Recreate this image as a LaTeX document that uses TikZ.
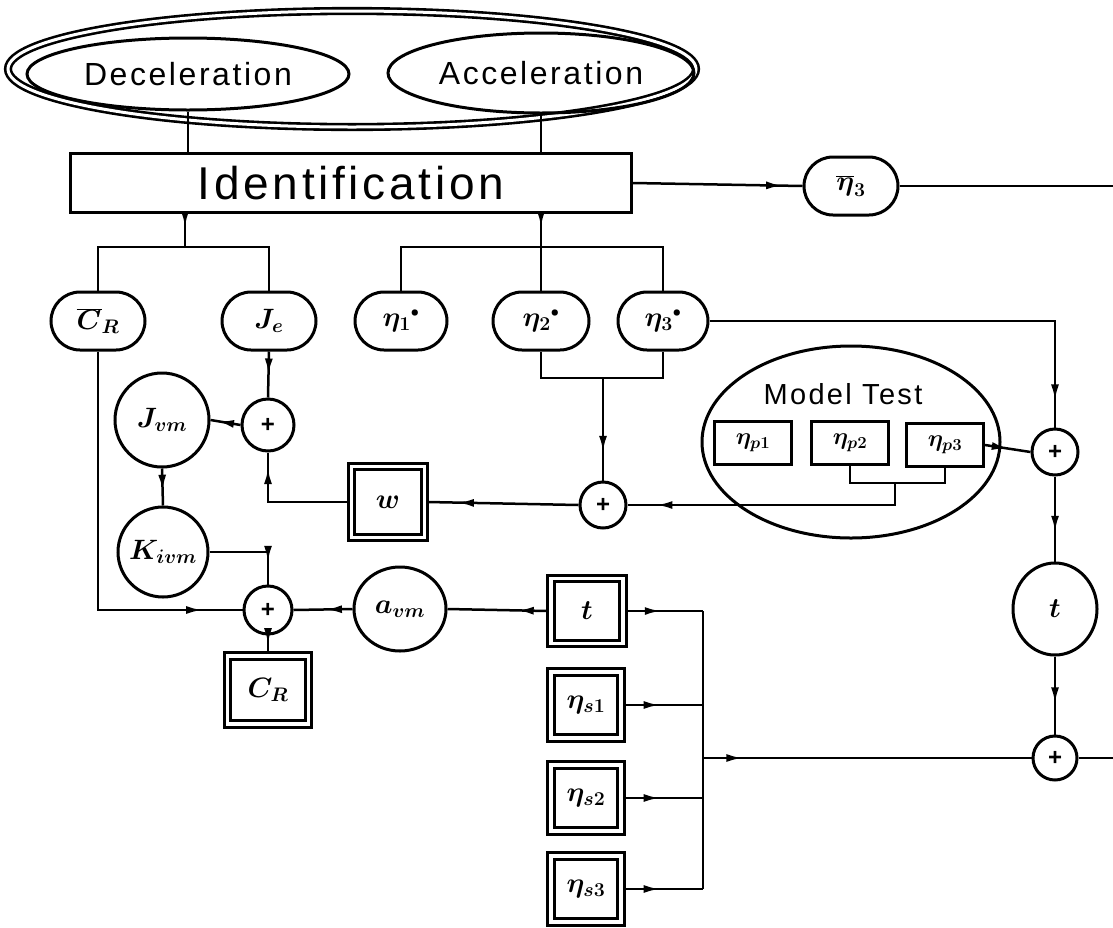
\documentclass[tikz,border=0pt]{standalone}
\usepackage{fix-cm}
\usepackage{fontspec}
\newfontfamily\plainfont[LetterSpace=8]{Liberation Sans}
\usetikzlibrary{shapes.geometric,shapes.misc,arrows.meta,decorations.markings}
\def\BusX{703}
\def\EdgeX{1113}
\def\BranchY{247}
\newcommand{\stardot}{{}^{\scriptscriptstyle\bullet}}

\begin{document}
\begin{tikzpicture}[x=1pt,y=-1pt,line width=2.5pt,
  box/.style={draw,line width=3pt,font=\fontsize{28}{32}\selectfont\boldmath},
  pill/.style={box,rounded rectangle,minimum width=98pt,minimum height=58pt,inner sep=2pt},
  dbox/.style={box,double,double distance=3.4pt,outer sep=3.2pt},
  sum/.style={box,circle,inner sep=0pt,minimum size=#1,font=\plainfont\bfseries\fontsize{24}{24}\selectfont},
  sum/.default=46pt,
  pbox/.style={box,minimum width=77pt,minimum height=43pt,inner sep=1pt,font=\fontsize{24}{26}\selectfont\boldmath},
  flow/.style={postaction={decorate},decoration={markings,mark=at position #1 with {\arrow{Latex[length=16pt,width=8pt]}}}},
  flow/.default=0.5]
  \useasboundingbox (0,0) rectangle (1113,927);
  \coordinate (edge) at (\EdgeX,0);
  \coordinate (b1) at (185,\BranchY);
  \coordinate (b2) at (541,\BranchY);
  \coordinate (b3) at (603,378);
  \coordinate (b4) at (895,483);
  \coordinate (bus) at (\BusX,611);
  % trials
  \node[ellipse,draw,line width=2.6pt,double,double distance=3pt,minimum width=688pt,minimum height=116pt] (trials) at (352,69) {};
  \node[box,ellipse,minimum width=322pt,minimum height=72pt,font=\plainfont\fontsize{32}{36}\selectfont] (decel) at (188,74) {Deceleration};
  \node[box,ellipse,minimum width=306pt,minimum height=80pt,font=\plainfont\fontsize{32}{36}\selectfont] (accel) at (541,73) {Acceleration};
  \node[box,minimum width=561pt,minimum height=59pt,font=\plainfont\fontsize{46}{50}\selectfont] (ident) at (351,183) {Identification};
  \draw (decel.south) -- (decel.south |- ident.north);
  \draw (accel.south) -- (accel.south |- ident.north);
  % identified values
  \node[pill] (etabar) at (851,186) {$\overline{\eta}_3$};
  \node[pill] (CRbar) at (98,321) {$\overline{C}_R$};
  \node[pill] (Je) at (269,321) {$J_e$};
  \node[pill,minimum width=96pt] (eta1) at (401,321) {$\eta_1\stardot$};
  \node[pill,minimum width=100pt] (eta2) at (541,321) {$\eta_2\stardot$};
  \node[pill,minimum width=94pt] (eta3) at (663,321) {$\eta_3\stardot$};
  \draw[flow=0.88] (ident.east) -- (etabar.west);
  \draw (etabar.east) -- (etabar.east -| edge);
  \draw[flow=0.4] (ident.south -| b1) -- (b1);
  \draw[flow=0.4] (ident.south -| b2) -- (b2);
  \draw (CRbar.north) |- (b1) -| (Je.north);
  \draw (eta1.north) |- (b2) -| (eta3.north);
  \draw (b2) -- (eta2.north);
  % virtual mass
  \node[box,circle,minimum size=94pt,inner sep=0pt] (Jvm) at (162,420) {$J_{vm}$};
  \node[sum=52pt] (sumJ) at (268,425) {+};
  \node[box,circle,minimum size=90pt,inner sep=0pt] (Kivm) at (163,552) {$K_{ivm}$};
  \node[sum=48pt] (sumC) at (268,610) {+};
  \node[box,ellipse,minimum width=92pt,minimum height=84pt,inner sep=0pt] (avm) at (400,609) {$a_{vm}$};
  \node[dbox,minimum width=73pt,minimum height=71pt] (w) at (388,502) {$w$};
  \node[dbox,minimum width=81pt,minimum height=68pt] (CR) at (268,690) {$C_R$};
  \draw[flow] (Je.south) -- (sumJ.north);
  \draw[flow=0.75] (sumJ.west) -- (Jvm.east);
  \draw[flow=0.6] (Jvm.south) -- (Kivm.north);
  \draw[flow=0.88] (w.west) -| (sumJ.south);
  \draw[flow=0.75] (Kivm.east) -| (sumC.north);
  \draw[flow=0.9] (CRbar.south) |- (sumC.west);
  \draw[flow=0.45] (avm.west) -- (sumC.east);
  \draw[flow] (sumC.south) -- (CR.north);
  % model test
  \node[draw,ellipse,line width=3pt,minimum width=298pt,minimum height=192pt] (model) at (851,442) {};
  \node[font=\plainfont\fontsize{29}{32}\selectfont] (mtlabel) at (843,394) {Model Test};
  \node[pbox] (etap1) at (753,443) {$\eta_{p1}$};
  \node[pbox] (etap2) at (850,443) {$\eta_{p2}$};
  \node[pbox] (etap3) at (945,445) {$\eta_{p3}$};
  \node[sum] (sumW) at (603,505) {+};
  \draw (eta2.south) |- (b3) -| (eta3.south);
  \draw[flow=0.72] (b3) -- (sumW.north);
  \draw (etap2.south) |- (b4) -| (etap3.south);
  \draw[flow=0.9] (b4) |- (sumW.east);
  \draw[flow=0.8] (sumW.west) -- (w.east);
  % thrust deduction
  \node[sum] (sumT) at (1055,452) {+};
  \node[box,ellipse,minimum width=84pt,minimum height=92pt,inner sep=0pt] (tcirc) at (1055,609) {$t$};
  \node[sum=44pt] (sumS) at (1055,758) {+};
  \draw[flow=0.94] (eta3.east) -| (sumT.north);
  \draw[flow=0.5] (etap3.east) -- (sumT.west);
  \draw[flow=0.65] (sumT.south) -- (tcirc.north);
  \draw[flow=0.6] (tcirc.south) -- (sumS.north);
  \draw (sumS.east) -- (sumS.east -| edge);
  % ship values
  \node[dbox,minimum width=72pt,minimum height=65pt] (tbox) at (587,611) {$t$};
  \draw[flow=0.3] (tbox.west) -- (avm.east);
  \draw[flow=0.45] (tbox.east) -- (tbox.east -| bus);
  \foreach \i/\y in {1/705,2/798,3/889}
    {
      \node[dbox,minimum width=70pt,minimum height=66pt] (etas\i) at (586,\y) {$\eta_{s\i}$};
      \draw[flow=0.45] (etas\i.east) -- (etas\i.east -| bus);
    }
  \draw (bus) -- (bus |- etas3.east);
  \draw[flow=0.12] (bus |- sumS.west) -- (sumS.west);
\end{tikzpicture}
\end{document}
